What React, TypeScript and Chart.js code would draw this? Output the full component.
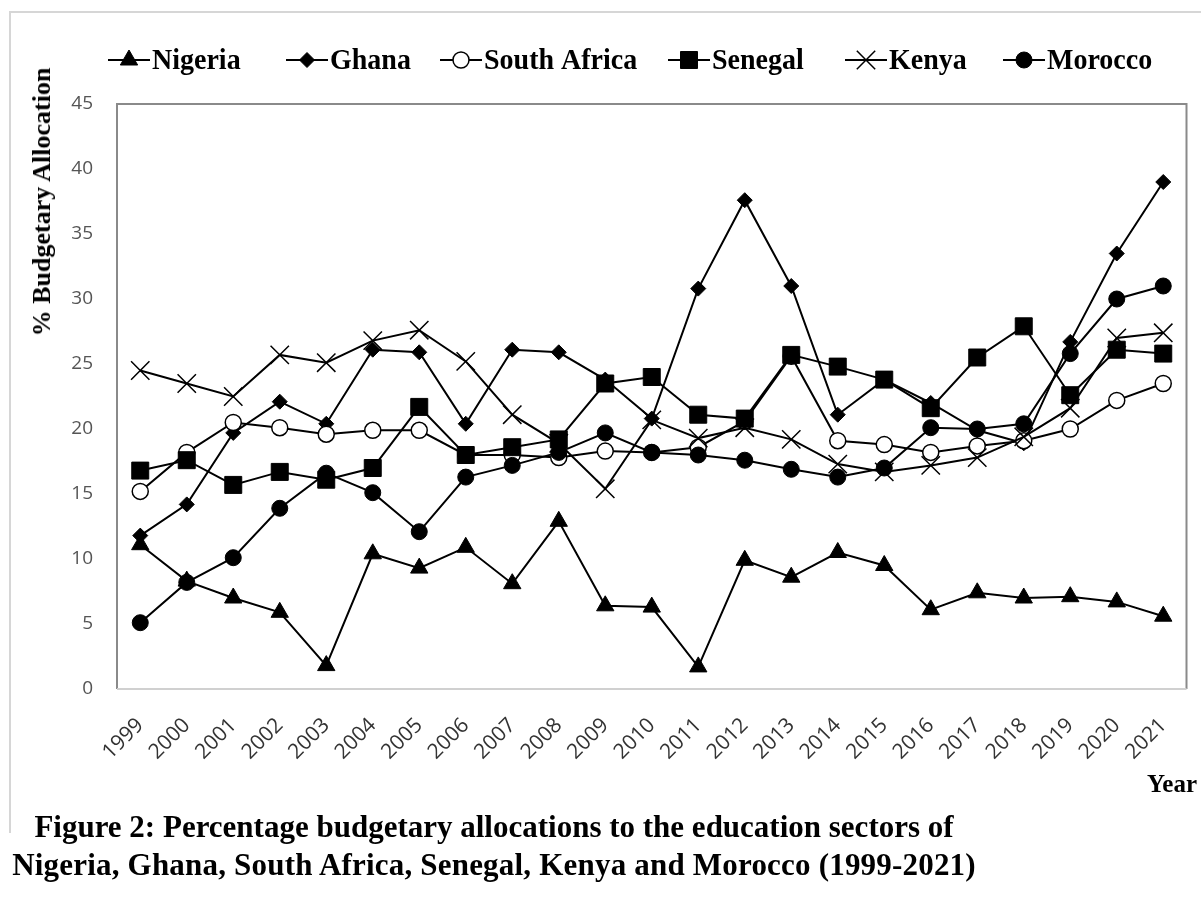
import React, { useEffect, useRef } from "react";
import { Chart, registerables } from "chart.js";

Chart.register(...registerables);

const years = ["1999","2000","2001","2002","2003","2004","2005","2006","2007","2008","2009","2010","2011","2012","2013","2014","2015","2016","2017","2018","2019","2020","2021"];

const nigeria = [11.1, 8.3, 7.0, 5.9, 1.8, 10.4, 9.3, 10.9, 8.1, 12.9, 6.4, 6.3, 1.7, 9.9, 8.6, 10.5, 9.5, 6.1, 7.4, 7.0, 7.1, 6.7, 5.6];
const ghana = [11.8, 14.2, 19.7, 22.1, 20.4, 26.1, 25.9, 20.4, 26.1, 25.9, 23.8, 20.8, 30.8, 37.6, 31.0, 21.1, 23.8, 22.0, 19.9, 18.9, 26.7, 33.5, 39.0];
const southAfrica = [15.2, 18.2, 20.5, 20.1, 19.6, 19.9, 19.9, 18.0, 18.0, 17.8, 18.3, 18.2, 18.6, 20.6, 25.6, 19.1, 18.8, 18.2, 18.7, 19.1, 20.0, 22.2, 23.5];
const senegal = [16.8, 17.6, 15.7, 16.7, 16.1, 17.0, 21.7, 18.0, 18.6, 19.2, 23.5, 24.0, 21.1, 20.8, 25.7, 24.8, 23.8, 21.6, 25.5, 27.9, 22.6, 26.1, 25.8];
const kenya = [24.5, 23.5, 22.5, 25.7, 25.1, 26.8, 27.6, 25.2, 21.1, 18.9, 15.4, 20.7, 19.3, 20.1, 19.2, 17.3, 16.7, 17.2, 17.8, 19.4, 21.6, 27.0, 27.4];
const morocco = [5.1, 8.2, 10.1, 13.9, 16.6, 15.1, 12.1, 16.3, 17.2, 18.2, 19.7, 18.2, 18.0, 17.6, 16.9, 16.3, 17.0, 20.1, 20.0, 20.4, 25.8, 30.0, 31.0];

const seriesNames = ["Nigeria", "Ghana", "South Africa", "Senegal", "Kenya", "Morocco"];
const yMin = 0;
const yMax = 45;
const yStep = 5;

const legendStartX = [108, 286, 440, 668, 845, 1003];

function drawMarker(ctx: CanvasRenderingContext2D, style: string, r: number, x: number, y: number) {
  ctx.beginPath();
  if (style === "triangle") {
    let rad = 0;
    ctx.moveTo(x + Math.sin(rad) * r, y - Math.cos(rad) * r);
    rad += (2 * Math.PI) / 3;
    ctx.lineTo(x + Math.sin(rad) * r, y - Math.cos(rad) * r);
    rad += (2 * Math.PI) / 3;
    ctx.lineTo(x + Math.sin(rad) * r, y - Math.cos(rad) * r);
    ctx.closePath();
    ctx.fill();
    ctx.stroke();
  } else if (style === "rectRot") {
    ctx.moveTo(x - r, y);
    ctx.lineTo(x, y - r);
    ctx.lineTo(x + r, y);
    ctx.lineTo(x, y + r);
    ctx.closePath();
    ctx.fill();
    ctx.stroke();
  } else if (style === "rect") {
    const s = Math.SQRT1_2 * r;
    ctx.rect(x - s, y - s, 2 * s, 2 * s);
    ctx.fill();
    ctx.stroke();
  } else if (style === "circle") {
    ctx.arc(x, y, r, 0, Math.PI * 2);
    ctx.closePath();
    ctx.fill();
    ctx.stroke();
  } else if (style === "crossRot") {
    const o = Math.SQRT1_2 * r;
    ctx.moveTo(x - o, y - o);
    ctx.lineTo(x + o, y + o);
    ctx.moveTo(x - o, y + o);
    ctx.lineTo(x + o, y - o);
    ctx.stroke();
  }
}

const frameAndLegend = {
  id: "frameAndLegend",
  beforeDatasetsDraw(chart: any) {
    const { ctx, chartArea } = chart;
    const { left, right, top, bottom } = chartArea;
    ctx.save();
    ctx.lineWidth = 2;
    ctx.strokeStyle = "#8a8a8a";
    ctx.beginPath();
    ctx.moveTo(left, bottom);
    ctx.lineTo(left, top);
    ctx.lineTo(right, top);
    ctx.lineTo(right, bottom);
    ctx.stroke();
    ctx.strokeStyle = "#d0d0d0";
    ctx.beginPath();
    ctx.moveTo(left, bottom);
    ctx.lineTo(right, bottom);
    ctx.stroke();
    ctx.restore();
  },
  afterDraw(chart: any) {
    const { ctx } = chart;
    const y = 60;
    ctx.save();
    chart.data.datasets.forEach((ds: any, i: number) => {
      const x0 = legendStartX[i];
      const x1 = x0 + 42;
      ctx.strokeStyle = "#000";
      ctx.lineWidth = 2;
      ctx.beginPath();
      ctx.moveTo(x0, y);
      ctx.lineTo(x1, y);
      ctx.stroke();
      ctx.fillStyle = ds.pointBackgroundColor;
      ctx.strokeStyle = "#000";
      ctx.lineWidth = ds.pointBorderWidth;
      drawMarker(ctx, ds.pointStyle, ds.pointRadius, (x0 + x1) / 2, y);
      ctx.fillStyle = "#000";
      ctx.font = "bold 28px 'Liberation Serif'";
      ctx.textBaseline = "middle";
      ctx.textAlign = "left";
      ctx.save();
      ctx.translate(x1 + 2, y + 1);
      ctx.scale(1, 1.08);
      ctx.fillText(ds.label, 0, 0);
      ctx.restore();
    });
    ctx.restore();
  },
};

function mk(label: string, data: number[], pointStyle: string, radius: number, fill: string, bw: number, order: number) {
  return {
    label,
    data,
    order,
    borderColor: "#000",
    backgroundColor: fill,
    borderWidth: 2,
    pointStyle,
    pointRadius: radius,
    pointHoverRadius: radius,
    pointBackgroundColor: fill,
    pointBorderColor: "#000",
    pointBorderWidth: bw,
    tension: 0,
    fill: false,
  };
}

export default function App() {
  const ref = useRef<HTMLCanvasElement | null>(null);

  useEffect(() => {
    if (!ref.current) return;
    const chart = new Chart(ref.current, {
      type: "line",
      data: {
        labels: years,
        datasets: [
          mk(seriesNames[0], nigeria, "triangle", 10, "#000", 1, 6),
          mk(seriesNames[1], ghana, "rectRot", 7.5, "#000", 1, 5),
          mk(seriesNames[2], southAfrica, "circle", 8, "#fff", 1.5, 4),
          mk(seriesNames[3], senegal, "rect", 12, "#000", 1, 3),
          mk(seriesNames[4], kenya, "crossRot", 13, "#000", 1.5, 2),
          mk(seriesNames[5], morocco, "circle", 8, "#000", 1, 1),
        ] as any,
      },
      options: {
        responsive: false,
        animation: false,
        devicePixelRatio: 1,
        layout: { padding: { left: 0, top: 104, right: 13, bottom: 0 } },
        plugins: {
          legend: { display: false },
          title: { display: false },
          tooltip: { enabled: false },
        },
        scales: {
          x: {
            type: "category",
            offset: true,
            grid: { display: false, drawTicks: false },
            border: { display: false },
            ticks: {
              color: "#333333",
              font: { family: "'Open Sans'", size: 21 },
              minRotation: 45,
              maxRotation: 45,
              padding: 24,
              autoSkip: false,
            },
            afterFit: (scale: any) => {
              scale.height = 217;
              scale.paddingLeft = 0;
              scale.paddingRight = 0;
            },
          },
          y: {
            min: yMin,
            max: yMax,
            grid: { display: false, drawTicks: false },
            border: { display: false },
            ticks: {
              stepSize: yStep,
              color: "#555555",
              font: { family: "'Open Sans'", size: 19 },
              padding: 24,
            },
            afterFit: (scale: any) => {
              scale.width = 117;
              scale.paddingTop = 0;
              scale.paddingBottom = 0;
            },
          },
        },
      } as any,
      plugins: [frameAndLegend],
    });
    return () => chart.destroy();
  }, []);

  return (
    <div style={{ position: "absolute", left: 0, top: 0, width: 1201, height: 906, overflow: "hidden", background: "#fff" }}>
      <div style={{ position: "absolute", left: 9, top: 11, width: 1300, height: 820, borderLeft: "2px solid #d6d6d6", borderTop: "2px solid #d6d6d6" }} />
      <canvas ref={ref} width={1201} height={906} style={{ position: "absolute", left: 0, top: 0, width: 1201, height: 906 }} />
      <div style={{ position: "absolute", left: 42, top: 202, transform: "translate(-50%, -50%) rotate(-90deg)", whiteSpace: "nowrap", fontFamily: "'Liberation Serif', serif", fontWeight: "bold", fontSize: 26, color: "#000" }}>
        % Budgetary Allocation
      </div>
      <div style={{ position: "absolute", left: 1147, top: 770, whiteSpace: "nowrap", fontFamily: "'Liberation Serif', serif", fontWeight: "bold", fontSize: 25, color: "#000" }}>
        Year
      </div>
      <div style={{ position: "absolute", left: 494, top: 808, transform: "translateX(-50%)", whiteSpace: "nowrap", textAlign: "center", fontFamily: "'Liberation Serif', serif", fontWeight: "bold", fontSize: 31, lineHeight: "38px", color: "#000" }}>
        <div>Figure 2: Percentage budgetary allocations to the education sectors of</div>
        <div style={{ letterSpacing: "0.2px" }}>Nigeria, Ghana, South Africa, Senegal, Kenya and Morocco (1999-2021)</div>
      </div>
    </div>
  );
}
